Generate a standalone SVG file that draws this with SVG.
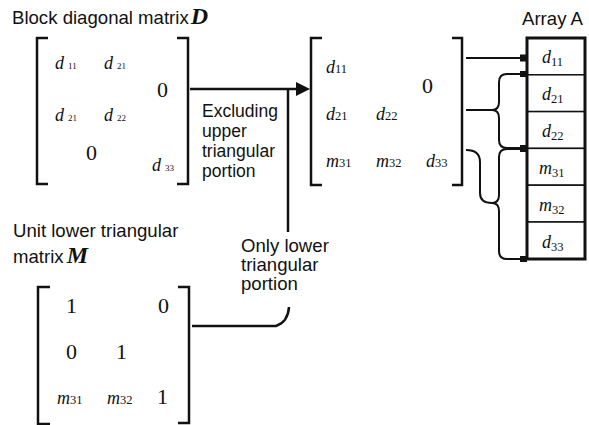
<svg xmlns="http://www.w3.org/2000/svg" width="589" height="425" viewBox="0 0 589 425">
<defs>
<style>
.lbl{font-family:"Liberation Sans",Arial,sans-serif;font-size:18.6px;fill:#111}
.lbs{font-family:"Liberation Sans",Arial,sans-serif;font-size:17.5px;fill:#111}
.v{font-family:"Liberation Serif","Times New Roman",serif;font-style:italic;font-size:18px;fill:#111}
.n{font-family:"Liberation Serif","Times New Roman",serif;font-size:22px;fill:#111}
.s{font-family:"Liberation Serif","Times New Roman",serif;font-style:normal;font-size:12.5px}
.t{font-family:"Liberation Serif","Times New Roman",serif;font-style:normal;font-size:9px}
.bm{font-family:"Liberation Serif","Times New Roman",serif;font-style:italic;font-weight:bold;font-size:24px;fill:#111}
.br{fill:none;stroke:#111;stroke-width:2.5}
.ln{fill:none;stroke:#111;stroke-width:2.5}
.cn{fill:none;stroke:#111;stroke-width:2}
.cell{fill:#fff;stroke:#111;stroke-width:1.5}
.tip{fill:#111}
</style>
</defs>

<g id="matrixD">
<text class="lbl" x="12" y="24">Block diagonal matrix<tspan class="bm" dx="2">D</tspan></text>
<path class="br" d="M48,38 H37 V184 H48"/>
<path class="br" d="M177,38 H188 V184 H177"/>
<text class="v" x="55" y="69">d<tspan class="t" dx="4">11</tspan></text>
<text class="v" x="104" y="69">d<tspan class="t" dx="4">21</tspan></text>
<text class="n" x="157" y="97">0</text>
<text class="v" x="55" y="121">d<tspan class="t" dx="4">21</tspan></text>
<text class="v" x="104" y="121">d<tspan class="t" dx="4">22</tspan></text>
<text class="n" x="86" y="160">0</text>
<text class="v" x="152" y="171">d<tspan class="t" dx="4">33</tspan></text>
</g>

<g id="matrixL">
<path class="br" d="M322,38 H311 V185 H322"/>
<path class="br" d="M452,38 H462 V185 H452"/>
<text class="v" x="326" y="73">d<tspan class="s">11</tspan></text>
<text class="n" x="422" y="93">0</text>
<text class="v" x="326" y="120">d<tspan class="s">21</tspan></text>
<text class="v" x="376" y="120">d<tspan class="s">22</tspan></text>
<text class="v" x="326" y="167">m<tspan class="s">31</tspan></text>
<text class="v" x="376" y="167">m<tspan class="s">32</tspan></text>
<text class="v" x="426" y="167">d<tspan class="s">33</tspan></text>
</g>

<g id="matrixM">
<text class="lbl" x="13" y="237">Unit lower triangular</text>
<text class="lbl" x="13" y="263">matrix<tspan class="bm" dx="3">M</tspan></text>
<path class="br" d="M50,287 H38 V424 H50"/>
<path class="br" d="M178,287 H189 V423 H178"/>
<text class="n" x="66" y="313">1</text>
<text class="n" x="158" y="313">0</text>
<text class="n" x="66" y="359">0</text>
<text class="n" x="116" y="359">1</text>
<text class="v" x="57" y="404">m<tspan class="s">31</tspan></text>
<text class="v" x="107" y="404">m<tspan class="s">32</tspan></text>
<text class="n" x="157" y="404">1</text>
</g>

<g id="arrayA">
<text class="lbl" x="522" y="25">Array A</text>
<rect class="cell" x="527" y="38" width="58" height="36.8"/>
<rect class="cell" x="527" y="74.8" width="58" height="36.8"/>
<rect class="cell" x="527" y="111.6" width="58" height="36.8"/>
<rect class="cell" x="527" y="148.4" width="58" height="36.8"/>
<rect class="cell" x="527" y="185.2" width="58" height="36.8"/>
<rect class="cell" x="527" y="222" width="58" height="37"/>
<rect x="527" y="38" width="58" height="221" fill="none" stroke="#111" stroke-width="3"/>
<text class="v" x="542" y="63">d<tspan class="s" dy="3">11</tspan></text>
<text class="v" x="542" y="100">d<tspan class="s" dy="3">21</tspan></text>
<text class="v" x="542" y="137">d<tspan class="s" dy="3">22</tspan></text>
<text class="v" x="539" y="174">m<tspan class="s" dy="3">31</tspan></text>
<text class="v" x="539" y="211">m<tspan class="s" dy="3">32</tspan></text>
<text class="v" x="542" y="248">d<tspan class="s" dy="3">33</tspan></text>
</g>

<g id="labels">
<text class="lbs" x="202" y="117">Excluding</text>
<text class="lbs" x="202" y="137">upper</text>
<text class="lbs" x="202" y="157">triangular</text>
<text class="lbs" x="202" y="177">portion</text>
<text class="lbl" x="241" y="252">Only lower</text>
<text class="lbl" x="241" y="271">triangular</text>
<text class="lbl" x="241" y="290">portion</text>
</g>

<g id="connectors">
<path class="ln" d="M190,89 H297"/>
<path class="tip" d="M296,82 L310,89 L296,96 z"/>
<path class="ln" d="M288,89 V232"/>
<path class="ln" d="M192,326 H276 Q288,322 289,307"/>
<path class="cn" d="M466,58 H524"/>
<path class="cn" d="M466,110 H492 Q499,110 499,102 V82 Q499,74 507,74 H524"/>
<path class="cn" d="M492,110 Q499,110 499,118 V140 Q499,148 507,148 H524"/>
<path class="cn" d="M466,150 Q480,150 480,162 V193 Q480,203 492,203 Q499,203 499,195 V157 Q499,149 507,149 H524"/>
<path class="cn" d="M492,203 Q499,203 499,211 V251 Q499,259 507,259 H524"/>
<path class="tip" d="M520,54.5 H527 V61.5 H520 z"/>
<path class="tip" d="M520,71 H527 V77 H520 z"/>
<path class="tip" d="M520,145 H527 V152 H520 z"/>
<path class="tip" d="M520,256 H527 V262 H520 z"/>
</g>
</svg>
